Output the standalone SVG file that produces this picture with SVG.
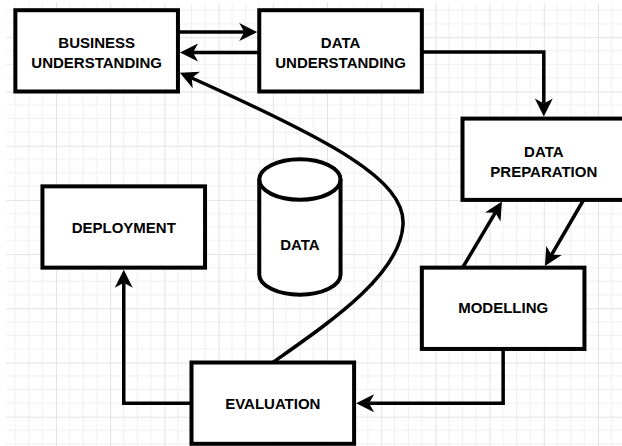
<svg xmlns="http://www.w3.org/2000/svg" width="622" height="446" viewBox="0 0 622 446">
<style>
.box{fill:#fff;stroke:#000;stroke-width:4}
.lbl{font-family:"Liberation Sans",Arial,sans-serif;font-weight:bold;font-size:15px;fill:#000;text-anchor:middle}
.edge{fill:none;stroke:#000;stroke-width:3.5}
</style>
<defs>
<pattern id="grid" patternUnits="userSpaceOnUse" x="1.8" y="37.3" width="54.2" height="54.2">
<path d="M13.55,0V54.2M27.1,0V54.2M40.65,0V54.2M0,13.55H54.2M0,27.1H54.2M0,40.65H54.2" stroke="#efefef" stroke-width="1" fill="none"/>
<path d="M0.5,0V54.2M0,0.5H54.2" stroke="#e3e3e3" stroke-width="1" fill="none"/>
</pattern>
<marker id="arr" markerUnits="userSpaceOnUse" markerWidth="30" markerHeight="30" viewBox="-10 -15 30 30" refX="0" refY="0" orient="auto" overflow="visible">
<path d="M-5,-9L13,0L-5,9L0,0Z" fill="#000"/>
</marker>
</defs>
<rect width="622" height="446" fill="#fff"/>
<rect x="6" y="3" width="616" height="443" fill="url(#grid)"/>

<g id="connectors">
<path class="edge" d="M178,32H244.25" marker-end="url(#arr)"/>
<path class="edge" d="M259.25,52.5H193" marker-end="url(#arr)"/>
<path class="edge" d="M421.85,52H543.8V103.6" marker-end="url(#arr)"/>
<path class="edge" d="M463,267L495.3,212.7" marker-end="url(#arr)"/>
<path class="edge" d="M583.5,200L551.5,254.8" marker-end="url(#arr)"/>
<path class="edge" d="M503.15,348.95V403.15H369.1" marker-end="url(#arr)"/>
<path class="edge" d="M191.5,403.15H123.75V282.65" marker-end="url(#arr)"/>
<path class="edge" d="M272.8,362.5C330,322 400,275 403,225C406,180 330,140 191.8,78" marker-end="url(#arr)"/>
</g>

<g id="business-understanding">
<rect class="box" x="15.35" y="10.2" width="162.6" height="81.3"/>
<text class="lbl" x="96.65" y="47.7">BUSINESS</text>
<text class="lbl" x="96.65" y="68.3">UNDERSTANDING</text>
</g>
<g id="data-understanding">
<rect class="box" x="259.25" y="10.2" width="162.6" height="81.3"/>
<text class="lbl" x="340.55" y="47.7">DATA</text>
<text class="lbl" x="340.55" y="68.3">UNDERSTANDING</text>
</g>
<g id="data-preparation">
<rect class="box" x="462.5" y="118.6" width="162.6" height="81.3"/>
<text class="lbl" x="543.8" y="156.7">DATA</text>
<text class="lbl" x="543.8" y="176.7">PREPARATION</text>
</g>
<g id="modelling">
<rect class="box" x="421.85" y="267.65" width="162.6" height="81.3"/>
<text class="lbl" x="503.15" y="313.3">MODELLING</text>
</g>
<g id="evaluation">
<rect class="box" x="191.5" y="362.5" width="162.6" height="81.3"/>
<text class="lbl" x="272.8" y="408.8">EVALUATION</text>
</g>
<g id="deployment">
<rect class="box" x="42.45" y="186.35" width="162.6" height="81.3"/>
<text class="lbl" x="123.75" y="232.7">DEPLOYMENT</text>
</g>
<g id="data">
<path class="box" d="M259.25,179.55A40.65,20.3 0 0 1 340.55,179.55V274.45A40.65,20.3 0 0 1 259.25,274.45Z"/>
<path class="box" fill="none" d="M259.25,179.55A40.65,20.3 0 0 0 340.55,179.55" style="fill:none"/>
<text class="lbl" x="299.9" y="250">DATA</text>
</g>
</svg>
